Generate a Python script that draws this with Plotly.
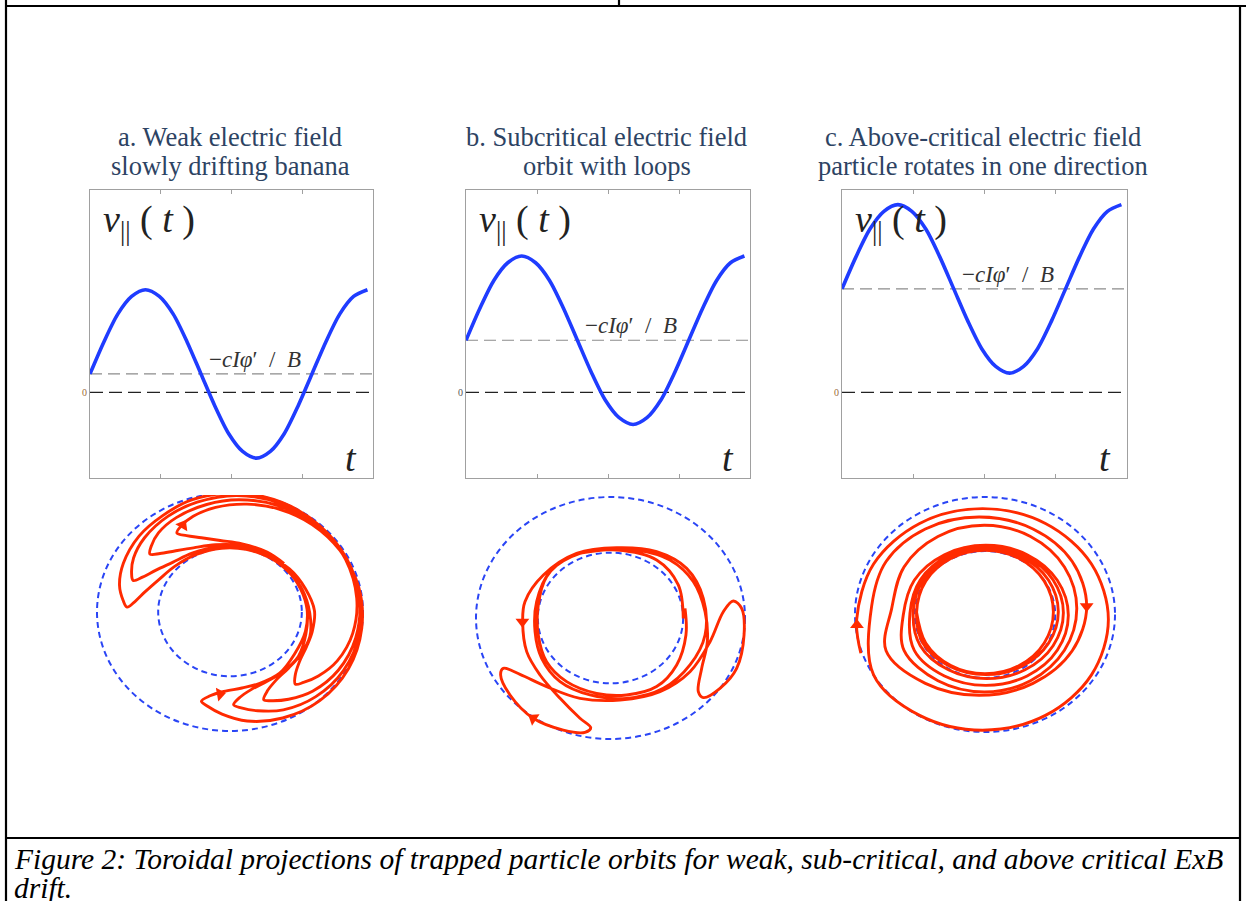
import numpy as np
import plotly.graph_objects as go

W, H = 1246, 901

# ---------------- data ----------------
t_vals = [0, 0.0625, 0.125, 0.1875, 0.25, 0.3125, 0.375, 0.4375, 0.5, 0.5625, 0.625,
          0.6875, 0.75, 0.8125, 0.875, 0.9375, 1.0, 1.0625, 1.125, 1.1875, 1.25]
v_a = [0.22, 0.60, 0.93, 1.14, 1.22, 1.14, 0.93, 0.60, 0.22, -0.16, -0.49,
       -0.70, -0.78, -0.70, -0.49, -0.16, 0.22, 0.60, 0.93, 1.14, 1.22]
v_b = [0.62, 1.00, 1.33, 1.54, 1.62, 1.54, 1.33, 1.00, 0.62, 0.24, -0.09,
       -0.30, -0.38, -0.30, -0.09, 0.24, 0.62, 1.00, 1.33, 1.54, 1.62]
v_c = [1.23, 1.61, 1.94, 2.15, 2.23, 2.15, 1.94, 1.61, 1.23, 0.85, 0.52,
       0.31, 0.23, 0.31, 0.52, 0.85, 1.23, 1.61, 1.94, 2.15, 2.23]
drift_levels = [0.22, 0.62, 1.23]

titles_line1 = ["a. Weak electric field", "b. Subcritical electric field", "c. Above-critical electric field"]
titles_line2 = ["slowly drifting banana", "orbit with loops", "particle rotates in one direction"]
caption_1 = "Figure 2: Toroidal projections of trapped particle orbits for weak, sub-critical, and above critical ExB"
caption_2 = "drift."

# panel a: drifting banana orbit, waypoints (theta in degrees, normalised radius)
orbit_a_theta = [80, 60, 39, 19, 1, -15, -27, -39, -47, -51,
                 -47, -39, -27, -11, 7, 27, 47, 67, 87, 107, 122, 137, 153, 165, 173, 177,
                 173, 165, 153, 137, 117, 97, 77, 57, 37, 19, -1, -19, -35, -47, -59, -67, -71,
                 -67, -59, -47, -31, -13, 7, 27, 47, 67, 87, 105, 120, 136, 148, 156, 160,
                 156, 148, 136, 120, 100, 80, 60, 40, 20, 2, -18, -36, -52, -64, -76, -84, -88,
                 -84, -76, -64, -48, -30, -10, 10, 30, 50, 68, 86, 101, 117, 129, 137, 141,
                 137, 129, 117, 101, 81, 61, 41, 21, 3, -16, -36, -54, -70, -82, -94, -102, -106,
                 -102, -94, -82, -66, -48, -28, -8, 12, 32, 50, 67, 82, 97, 109, 117, 121,
                 117, 109, 97, 81, 61, 45]
orbit_a_r = [0.55, 0.55, 0.575, 0.60, 0.635, 0.64, 0.645, 0.67, 0.72, 0.78,
             0.81, 0.855, 0.905, 0.94, 0.96, 0.975, 0.99, 1.0, 1.0, 0.985, 0.955, 0.935, 0.90, 0.86, 0.81, 0.775,
             0.72, 0.66, 0.60, 0.565, 0.545, 0.54, 0.54, 0.545, 0.555, 0.575, 0.60, 0.635, 0.64, 0.645, 0.67, 0.72, 0.78,
             0.81, 0.855, 0.91, 0.95, 0.97, 0.98, 0.985, 0.99, 0.99, 0.98, 0.955, 0.93, 0.895, 0.855, 0.81, 0.775,
             0.72, 0.66, 0.60, 0.57, 0.555, 0.552, 0.552, 0.555, 0.565, 0.58, 0.60, 0.635, 0.64, 0.645, 0.67, 0.72, 0.78,
             0.81, 0.855, 0.915, 0.96, 0.985, 0.99, 0.985, 0.98, 0.975, 0.965, 0.945, 0.92, 0.89, 0.855, 0.81, 0.775,
             0.72, 0.66, 0.605, 0.575, 0.565, 0.565, 0.565, 0.57, 0.58, 0.59, 0.60, 0.635, 0.64, 0.645, 0.67, 0.72, 0.78,
             0.81, 0.86, 0.925, 0.975, 1.005, 1.01, 1.0, 0.99, 0.975, 0.96, 0.94, 0.915, 0.885, 0.85, 0.81, 0.775,
             0.72, 0.66, 0.605, 0.58, 0.575, 0.575]

# panel b: orbit with loops (normalised x, y)
orbit_b_x = [0.541, 0.504, 0.343, 0.046, -0.227, -0.450, -0.549, -0.561, -0.512, -0.375, -0.152, 0.120,
             0.393, 0.591, 0.703, 0.690, 0.566, 0.343, 0.046, -0.252, -0.499, -0.636, -0.653, -0.623,
             -0.524, -0.375, -0.227, -0.147, -0.190, -0.351, -0.574, -0.747, -0.817, -0.797, -0.673,
             -0.475, -0.227, 0.071, 0.368, 0.591, 0.740, 0.839, 0.913, 0.975, 0.993, 0.938, 0.814,
             0.690, 0.653, 0.678, 0.720, 0.703, 0.616, 0.442, 0.195, -0.053, -0.301, -0.475, -0.537,
             -0.537, -0.475, -0.326, -0.103, 0.120, 0.343, 0.492, 0.561, 0.554]
orbit_b_y = [-0.003, 0.273, 0.479, 0.562, 0.534, 0.383, 0.135, -0.113, -0.333, -0.526, -0.636, -0.664,
             -0.581, -0.388, -0.140, 0.163, 0.410, 0.548, 0.581, 0.534, 0.355, 0.135, -0.030, -0.278,
             -0.471, -0.664, -0.829, -0.906, -0.945, -0.926, -0.829, -0.636, -0.471, -0.416, -0.466,
             -0.567, -0.664, -0.678, -0.609, -0.444, -0.196, 0.052, 0.140, 0.080, -0.140, -0.416, -0.581,
             -0.658, -0.609, -0.416, -0.196, 0.052, 0.300, 0.479, 0.562, 0.562, 0.507, 0.342, 0.107,
             -0.140, -0.361, -0.526, -0.623, -0.636, -0.567, -0.388, -0.140, 0.080]

# panel c: orbit rotating in one direction (normalised x, y)
orbit_c_x = [-0.955,
             -0.987, -0.857, -0.503, -0.019, 0.465, 0.819, 0.949, 0.819, 0.465, -0.019, -0.503, -0.857,
             -0.872, -0.761, -0.459, -0.045, 0.369, 0.671, 0.782, 0.671, 0.369, -0.045, -0.459, -0.761,
             -0.718, -0.623, -0.362, -0.006, 0.350, 0.611, 0.706, 0.611, 0.350, -0.006, -0.362, -0.623,
             -0.629, -0.544, -0.312, 0.006, 0.324, 0.556, 0.641, 0.556, 0.324, 0.006, -0.312, -0.544,
             -0.577, -0.498, -0.282, 0.013, 0.308, 0.524, 0.603, 0.524, 0.308, 0.013, -0.282, -0.498,
             -0.552, -0.477, -0.273, 0.006, 0.285, 0.489, 0.564, 0.489, 0.285, 0.006, -0.273, -0.477,
             -0.526, -0.456, -0.263, 0.000, 0.263, 0.456, 0.526, 0.456, 0.263, 0.000, -0.263, -0.456, -0.528]
orbit_c_y = [-0.330,
             -0.042, 0.430, 0.775, 0.901, 0.775, 0.430, -0.042, -0.514, -0.859, -0.985, -0.859, -0.514,
             0.071, 0.451, 0.728, 0.830, 0.728, 0.451, 0.071, -0.309, -0.586, -0.688, -0.586, -0.309,
             0.050, 0.405, 0.664, 0.759, 0.664, 0.405, 0.050, -0.305, -0.564, -0.659, -0.564, -0.305,
             -0.007, 0.291, 0.509, 0.589, 0.509, 0.291, -0.007, -0.305, -0.523, -0.603, -0.523, -0.305,
             0.014, 0.294, 0.499, 0.574, 0.499, 0.294, 0.014, -0.266, -0.471, -0.546, -0.471, -0.266,
             0.024, 0.292, 0.488, 0.560, 0.488, 0.292, 0.024, -0.244, -0.440, -0.512, -0.440, -0.244,
             0.021, 0.284, 0.476, 0.546, 0.476, 0.284, 0.021, -0.242, -0.434, -0.504, -0.434, -0.242, 0.030]

# direction arrows on the orbits (x, y, rotation)
arrows_a = dict(x=[-0.355, -0.075], y=[0.73, -0.69], angle=[30, 80])
arrows_b = dict(x=[-0.655, -0.574], y=[-0.03, -0.829], angle=[180, -57])
arrows_c = dict(x=[-0.985, 0.782], y=[-0.09, 0.07], angle=[0, 180])

outer_radius = 1.0
inner_radius = 0.54

# ---------------- layout helpers ----------------
def px(p):
    return p / W

def py(p):
    return 1 - p / H

BLUE = "#1f3cff"
RED = "#ff2a00"
DASHBLUE = "#2a45f5"
TITLE = "#2d4363"
SERIF = "Liberation Serif"
NBSP = "\u00a0"

top_x_px = [(90, 373), (466, 750), (842, 1127)]
top_y_px = (189.5, 477.5)
orb_x_px = [(63.75, 396.25), (442.375, 778.625), (822.5, 1147.5)]
orb_y_px = [(495, 748.85), (484.9, 757.15), (485.25, 749.6)]
orb_y_rng = [[-1.15, 0.983], [-1.15, 1.1], [-1.15, 1.1]]
zero_colors = ["#9a6b3a", "#555555", "#9a6b3a"]

fig = go.Figure()

sines = [v_a, v_b, v_c]
tmax = 1.275
for i in range(3):
    n = i + 1
    fig.add_trace(go.Scatter(x=t_vals, y=sines[i], mode="lines",
                             line=dict(color=BLUE, width=3.6, shape="spline", smoothing=0.8),
                             xaxis=f"x{n}", yaxis=f"y{n}", hoverinfo="skip"))

th = np.deg2rad(np.array(orbit_a_theta))
ra = np.array(orbit_a_r)
orbits = [(ra * np.cos(th), ra * np.sin(th)), (orbit_b_x, orbit_b_y), (orbit_c_x, orbit_c_y)]
arrows = [arrows_a, arrows_b, arrows_c]
for i in range(3):
    n = i + 4
    ox, oy = orbits[i]
    fig.add_trace(go.Scatter(x=ox, y=oy, mode="lines",
                             line=dict(color=RED, width=2.9, shape="spline", smoothing=1.0),
                             xaxis=f"x{n}", yaxis=f"y{n}", hoverinfo="skip"))
    ar = arrows[i]
    fig.add_trace(go.Scatter(x=ar["x"], y=ar["y"], mode="markers",
                             marker=dict(symbol="triangle-up", size=12, color=RED, angle=ar["angle"],
                                         line=dict(width=0)),
                             xaxis=f"x{n}", yaxis=f"y{n}", hoverinfo="skip"))

layout = dict(width=W, height=H, margin=dict(l=0, r=0, t=0, b=0), showlegend=False,
              paper_bgcolor="white", plot_bgcolor="rgba(0,0,0,0)")

tick_fr = [tmax / 4, tmax / 2, 3 * tmax / 4]
for i in range(3):
    n = i + 1
    xs = "xaxis" if n == 1 else f"xaxis{n}"
    ys = "yaxis" if n == 1 else f"yaxis{n}"
    layout[xs] = dict(domain=[px(top_x_px[i][0]), px(top_x_px[i][1])], range=[0, tmax],
                      showline=True, linecolor="#a0a0a0", linewidth=1, mirror="ticks",
                      ticks="inside", ticklen=4, tickcolor="#a0a0a0", tickvals=tick_fr,
                      showticklabels=False, showgrid=False, zeroline=False, fixedrange=True,
                      anchor=f"y{n}")
    layout[ys] = dict(domain=[py(top_y_px[1]), py(top_y_px[0])], range=[-1.01, 2.41],
                      showline=True, linecolor="#a0a0a0", linewidth=1, mirror=True,
                      ticks="", tickvals=[0], ticktext=["0"],
                      tickfont=dict(size=10, color=zero_colors[i], family=SERIF),
                      showgrid=False, zeroline=False, fixedrange=True, anchor=f"x{n}")
for i in range(3):
    n = i + 4
    layout[f"xaxis{n}"] = dict(domain=[px(orb_x_px[i][0]), px(orb_x_px[i][1])], range=[-1.25, 1.25],
                               visible=False, fixedrange=True, anchor=f"y{n}")
    layout[f"yaxis{n}"] = dict(domain=[py(orb_y_px[i][1]), py(orb_y_px[i][0])], range=orb_y_rng[i],
                               visible=False, fixedrange=True, anchor=f"x{n}")

shapes = []
for i in range(3):
    n = i + 1
    xr = "x domain" if n == 1 else f"x{n} domain"
    yr = "y" if n == 1 else f"y{n}"
    shapes.append(dict(type="line", xref=xr, yref=yr, x0=0, x1=1, y0=drift_levels[i], y1=drift_levels[i],
                       line=dict(color="#8c8c8c", width=1.1, dash="12px,6px"), layer="below"))
    shapes.append(dict(type="line", xref=xr, yref=yr, x0=0, x1=1, y0=0, y1=0,
                       line=dict(color="#222222", width=1.3, dash="13px,6px"), layer="below"))
for i in range(3):
    n = i + 4
    for rr in (outer_radius, inner_radius):
        shapes.append(dict(type="circle", xref=f"x{n}", yref=f"y{n}", x0=-rr, x1=rr, y0=-rr, y1=rr,
                           line=dict(color=DASHBLUE, width=2, dash="6px,4px"), layer="below"))

frame = [((6, 6), (1246, 6)), ((6, 0), (6, 901)), ((1240, 6), (1240, 901)),
         ((619, 0), (619, 6)), ((6, 838), (1240, 838))]
for (a, b) in frame:
    shapes.append(dict(type="line", xref="paper", yref="paper", x0=px(a[0]), y0=py(a[1]),
                       x1=px(b[0]), y1=py(b[1]), line=dict(color="black", width=2.2)))
layout["shapes"] = shapes

ann = []
for i in range(3):
    n = i + 1
    xr = "x domain" if n == 1 else f"x{n} domain"
    yrd = "y domain" if n == 1 else f"y{n} domain"
    ann.append(dict(xref=xr, yref=yrd, x=0.495, y=1.182, text=titles_line1[i], showarrow=False,
                    xanchor="center", yanchor="middle", font=dict(family=SERIF, size=26.5, color=TITLE)))
    ann.append(dict(xref=xr, yref=yrd, x=0.495, y=1.082, text=titles_line2[i], showarrow=False,
                    xanchor="center", yanchor="middle", font=dict(family=SERIF, size=26.5, color=TITLE)))
    ann.append(dict(xref=xr, yref=yrd, x=0.04, y=0.887,
                    text="<i>v</i><sub>||</sub> ( <i>t</i> )", showarrow=False,
                    xanchor="left", yanchor="middle", align="left",
                    font=dict(family=SERIF, size=38, color="#222222")))
    ann.append(dict(xref=xr, yref=yrd, x=0.922, y=0.068, text="<i>t</i>", showarrow=False,
                    xanchor="center", yanchor="middle", font=dict(family=SERIF, size=38, color="#222222")))
    label_y = (drift_levels[i] + 1.01) / 3.42
    ann.append(dict(xref=xr, yref=yrd, x=0.413, y=label_y,
                    text="\u2212<i>cI\u03c6</i>\u2032" + NBSP + " / " + NBSP + "<i>B</i>", showarrow=False,
                    xanchor="left", yanchor="bottom", align="left",
                    font=dict(family=SERIF, size=23, color="#333333")))

ann.append(dict(xref="paper", yref="paper", x=px(12), y=py(859), text=f"<i>{caption_1}</i>",
                showarrow=False, xanchor="left", yanchor="middle",
                font=dict(family=SERIF, size=29.5, color="black")))
ann.append(dict(xref="paper", yref="paper", x=px(12), y=py(888), text=f"<i>{caption_2}</i>",
                showarrow=False, xanchor="left", yanchor="middle",
                font=dict(family=SERIF, size=29.5, color="black")))
layout["annotations"] = ann

fig.update_layout(**layout)
fig.write_html("out.html", config={"displayModeBar": False},
               post_script="document.body.style.margin='0px';document.body.style.overflow='hidden';")
